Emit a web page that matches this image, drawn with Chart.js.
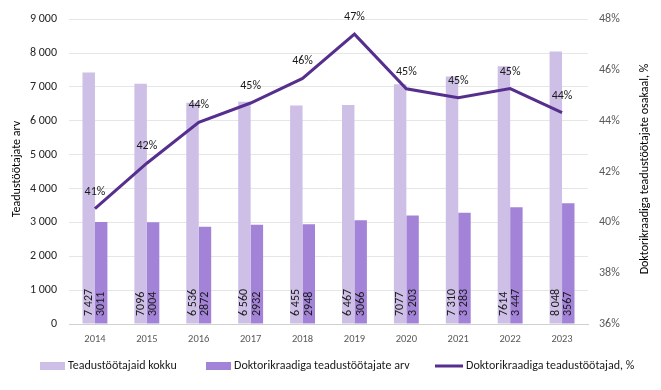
<!DOCTYPE html>
<html>
<head>
<meta charset="utf-8">
<script src="https://cdn.jsdelivr.net/npm/chart.js@4"></script>
<style>
html,body{margin:0;padding:0;background:#fff;}
#wrap{width:661px;height:390px;}
</style>
</head>
<body>
<div id="wrap"><canvas id="c" width="661" height="390"></canvas></div>
<script>
const years = ['2014','2015','2016','2017','2018','2019','2020','2021','2022','2023'];
const totalStaff = [7427,7096,6536,6560,6455,6467,7077,7310,7614,8048];
const doctorStaff = [3011,3004,2872,2932,2948,3066,3203,3283,3447,3567];
const doctorShare = [40.54,42.33,43.94,44.70,45.67,47.41,45.26,44.91,45.27,44.32];
const totalLabels = ['7 427','7096','6 536','6 560','6 455','6 467','7077','7 310','7614','8 048'];
const doctorLabels = ['3011','3004','2872','2932','2948','3066','3 203','3 283','3 447','3567'];
const shareLabels = ['41%','42%','44%','45%','46%','47%','45%','45%','45%','44%'];
const seriesNames = ['Teadustöötajaid kokku','Doktorikraadiga teadustöötajate arv','Doktorikraadiga teadustöötajad, %'];
const leftTitle = 'Teadustöötajate arv';
const rightTitle = 'Doktorikraadiga teadustöötajate osakaal, %';

const C_LIGHT = '#CDBFE6', C_DARK = '#A383D8', C_LINE = '#562F8E';
const FONT = 'Carlito, Lato, "Liberation Sans", sans-serif';

const fmtThousands = v => {
  const s = String(Math.round(v));
  return s.length > 3 ? s.slice(0, s.length-3) + ' ' + s.slice(-3) : s;
};

const overlay = {
  id: 'overlay',
  afterDatasetsDraw(chart) {
    const ctx = chart.ctx;
    const base = chart.scales.y.getPixelForValue(0);
    ctx.save();
    ctx.fillStyle = '#1a1a1a';
    ctx.font = '12px ' + FONT;
    [[0,totalLabels],[1,doctorLabels]].forEach(([di, labels]) => {
      chart.getDatasetMeta(di).data.forEach((bar, i) => {
        ctx.save();
        ctx.translate(bar.x, base - 8);
        ctx.rotate(-Math.PI/2);
        ctx.textAlign = 'left';
        ctx.textBaseline = 'middle';
        ctx.fillText(labels[i], 0, 0);
        ctx.restore();
      });
    });
    ctx.textAlign = 'center';
    ctx.textBaseline = 'middle';
    chart.getDatasetMeta(2).data.forEach((pt, i) => {
      ctx.fillText(shareLabels[i], pt.x, pt.y - 17);
    });
    // axis titles
    ctx.fillStyle = '#000';
    ctx.save();
    ctx.translate(17, 169);
    ctx.rotate(-Math.PI/2);
    ctx.fillText(leftTitle, 0, 0);
    ctx.restore();
    ctx.save();
    ctx.translate(645, 169);
    ctx.rotate(-Math.PI/2);
    ctx.fillText(rightTitle, 0, 0);
    ctx.restore();
    // legend
    const ly = 366;
    ctx.textAlign = 'left';
    ctx.fillStyle = C_LIGHT; ctx.fillRect(40, ly-4, 25, 8);
    ctx.fillStyle = C_DARK; ctx.fillRect(206, ly-4, 25, 8);
    ctx.strokeStyle = C_LINE; ctx.lineWidth = 3;
    ctx.beginPath(); ctx.moveTo(435, ly); ctx.lineTo(463, ly); ctx.stroke();
    ctx.fillStyle = '#1a1a1a';
    ctx.fillText(seriesNames[0], 68, ly);
    ctx.fillText(seriesNames[1], 234, ly);
    ctx.fillText(seriesNames[2], 466, ly);
    ctx.restore();
  }
};

new Chart(document.getElementById('c'), {
  type: 'bar',
  data: {
    labels: years,
    datasets: [
      { label: seriesNames[0], data: totalStaff, backgroundColor: C_LIGHT, yAxisID: 'y', order: 2,
        categoryPercentage: 0.48, barPercentage: 1.0 },
      { label: seriesNames[1], data: doctorStaff, backgroundColor: C_DARK, yAxisID: 'y', order: 2,
        categoryPercentage: 0.48, barPercentage: 1.0 },
      { type: 'line', label: seriesNames[2], data: doctorShare, borderColor: C_LINE, backgroundColor: C_LINE,
        borderWidth: 3, pointRadius: 0, tension: 0, yAxisID: 'y1', order: 0 }
    ]
  },
  options: {
    responsive: false,
    animation: false,
    devicePixelRatio: 1,
    layout: { padding: { top: 15, left: 0, right: 0, bottom: 0 } },
    plugins: { legend: { display: false }, tooltip: { enabled: false } },
    scales: {
      x: {
        grid: { display: false },
        border: { color: '#D0D0D0', width: 1 },
        ticks: { color: '#595959', font: { family: FONT, size: 10.5 }, padding: 1, maxRotation: 0 },
        afterFit: s => { s.height = 66; }
      },
      y: {
        position: 'left', min: 0, max: 9000,
        ticks: { stepSize: 1000, color: '#262626', font: { family: FONT, size: 12 }, padding: 12,
          callback: v => fmtThousands(v) },
        grid: { color: '#E6E6E6', drawTicks: false },
        border: { display: false },
        afterFit: s => { s.width = 69; }
      },
      y1: {
        position: 'right', min: 36, max: 48,
        ticks: { stepSize: 2, color: '#595959', font: { family: FONT, size: 12 }, padding: 11,
          callback: v => v + '%' },
        grid: { display: false, drawTicks: false },
        border: { display: false },
        afterFit: s => { s.width = 73; }
      }
    }
  },
  plugins: [overlay]
});
</script>
</body>
</html>
